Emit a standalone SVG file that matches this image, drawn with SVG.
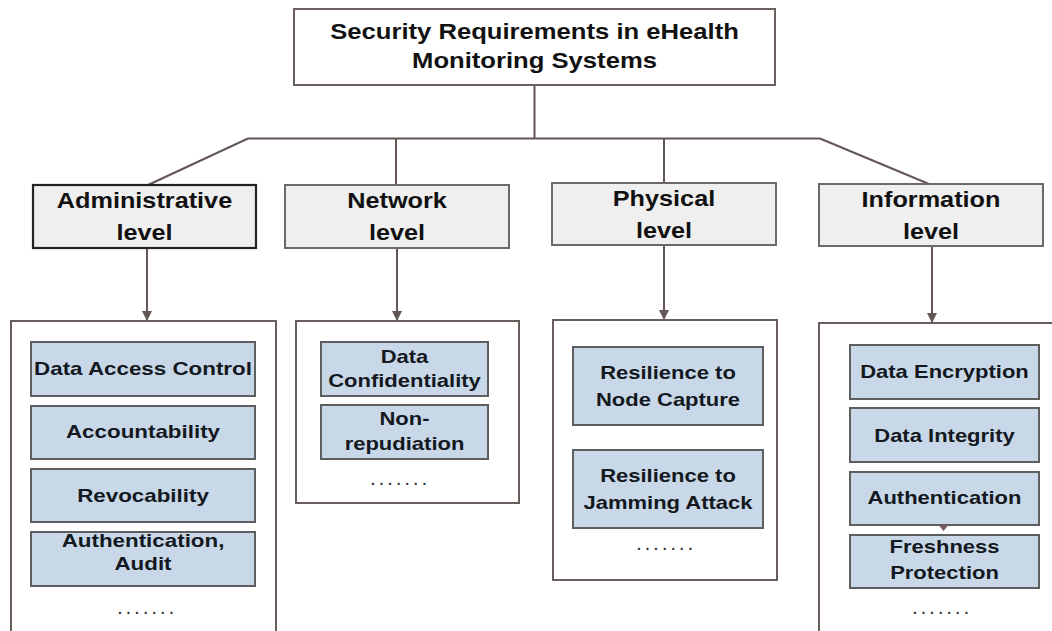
<svg xmlns="http://www.w3.org/2000/svg" width="1052" height="631" viewBox="0 0 1052 631">
<style>
  text { font-family: "Liberation Sans", Arial, sans-serif; font-weight: bold; fill: #111; text-anchor: middle; }
  .title { font-size: 22px; }
  .lvl { font-size: 21.5px; }
  .item { font-size: 18.8px; fill: #141820; }
  .dots { font-size: 14px; letter-spacing: 4.7px; fill: #333; }
  .titlebox { fill: #fff; stroke: #6b6260; stroke-width: 2; }
  .lvlbox { fill: #efefef; stroke: #6e6866; stroke-width: 2; }
  .lvlbox.dark { stroke: #232323; stroke-width: 2.2; }
  .cont { fill: #fff; stroke: #675d5b; stroke-width: 2; }
  .ibox { fill: #c8d8e8; stroke: #5e5e5e; stroke-width: 2; }
  .conn { fill: none; stroke: #625755; stroke-width: 2; }
</style>
<defs>
  <marker id="ah" viewBox="0 0 10 10" refX="9" refY="5" markerWidth="5" markerHeight="5" orient="auto" markerUnits="strokeWidth">
    <path d="M0,0 L10,5 L0,10 Z" fill="#625755"/>
  </marker>
</defs>
<rect width="1052" height="631" fill="#fff"/>

<g id="connectors">
  <path class="conn" d="M534.5 85 V138.5"/>
  <path class="conn" d="M248 138.5 H820"/>
  <path class="conn" d="M248 138.5 L148 185"/>
  <path class="conn" d="M396 138.5 V185"/>
  <path class="conn" d="M664 138.5 V183"/>
  <path class="conn" d="M820 138.5 L929 184"/>
  <path class="conn" d="M147 248 V320" marker-end="url(#ah)"/>
  <path class="conn" d="M397 248 V320" marker-end="url(#ah)"/>
  <path class="conn" d="M664 245 V319" marker-end="url(#ah)"/>
  <path class="conn" d="M932 246 V322" marker-end="url(#ah)"/>
</g>

<g id="title">
  <rect class="titlebox" x="294" y="9" width="481" height="76"/>
  <text class="title" transform="translate(534.5,39) scale(1.165,1)">Security Requirements in eHealth</text>
  <text class="title" transform="translate(534.5,68) scale(1.165,1)">Monitoring Systems</text>
</g>

<g id="admin-level">
  <rect class="lvlbox dark" x="33" y="185" width="223" height="63"/>
  <text class="lvl" transform="translate(144.5,208) scale(1.175,1)">Administrative</text>
  <text class="lvl" transform="translate(144.5,240) scale(1.175,1)">level</text>
</g>
<g id="network-level">
  <rect class="lvlbox" x="285" y="185" width="224" height="63"/>
  <text class="lvl" transform="translate(397,208) scale(1.175,1)">Network</text>
  <text class="lvl" transform="translate(397,240) scale(1.175,1)">level</text>
</g>
<g id="physical-level">
  <rect class="lvlbox" x="552" y="183" width="224" height="62"/>
  <text class="lvl" transform="translate(664,206) scale(1.175,1)">Physical</text>
  <text class="lvl" transform="translate(664,238) scale(1.175,1)">level</text>
</g>
<g id="information-level">
  <rect class="lvlbox" x="819" y="184" width="224" height="62"/>
  <text class="lvl" transform="translate(931,207) scale(1.175,1)">Information</text>
  <text class="lvl" transform="translate(931,239) scale(1.175,1)">level</text>
</g>

<g id="admin-requirements">
  <rect class="cont" x="11" y="321" width="265" height="330"/>
  <rect class="ibox" x="31" y="342" width="224" height="54"/>
  <text class="item" transform="translate(143,375) scale(1.19,1)">Data Access Control</text>
  <rect class="ibox" x="31" y="406" width="224" height="53"/>
  <text class="item" transform="translate(143,438) scale(1.19,1)">Accountability</text>
  <rect class="ibox" x="31" y="469" width="224" height="53"/>
  <text class="item" transform="translate(143,502) scale(1.19,1)">Revocability</text>
  <rect class="ibox" x="31" y="532" width="224" height="54"/>
  <text class="item" transform="translate(143,547) scale(1.19,1)">Authentication,</text>
  <text class="item" transform="translate(143,570) scale(1.19,1)">Audit</text>
  <text class="dots" x="148" y="614">.......</text>
</g>

<g id="network-requirements">
  <rect class="cont" x="296" y="321" width="223" height="182"/>
  <rect class="ibox" x="321" y="342" width="167" height="54"/>
  <text class="item" transform="translate(404.5,363) scale(1.17,1)">Data</text>
  <text class="item" transform="translate(404.5,387) scale(1.17,1)">Confidentiality</text>
  <rect class="ibox" x="321" y="405" width="167" height="54"/>
  <text class="item" transform="translate(404.5,425) scale(1.17,1)">Non-</text>
  <text class="item" transform="translate(404.5,450) scale(1.17,1)">repudiation</text>
  <text class="dots" x="401" y="485">.......</text>
</g>

<g id="physical-requirements">
  <rect class="cont" x="553" y="320" width="224" height="260"/>
  <rect class="ibox" x="573" y="347" width="190" height="78"/>
  <text class="item" transform="translate(668,379) scale(1.17,1)">Resilience to</text>
  <text class="item" transform="translate(668,406) scale(1.17,1)">Node Capture</text>
  <rect class="ibox" x="573" y="450" width="190" height="78"/>
  <text class="item" transform="translate(668,482) scale(1.17,1)">Resilience to</text>
  <text class="item" transform="translate(668,509) scale(1.17,1)">Jamming Attack</text>
  <text class="dots" x="667" y="550">.......</text>
</g>

<g id="information-requirements">
  <rect class="cont" x="819" y="323" width="250" height="330"/>
  <rect class="ibox" x="850" y="345" width="189" height="54"/>
  <text class="item" transform="translate(944.5,378) scale(1.17,1)">Data Encryption</text>
  <rect class="ibox" x="850" y="408" width="189" height="54"/>
  <text class="item" transform="translate(944.5,442) scale(1.17,1)">Data Integrity</text>
  <rect class="ibox" x="850" y="472" width="189" height="53"/>
  <text class="item" transform="translate(944.5,504) scale(1.17,1)">Authentication</text>
  <path d="M938.5 525 L948.5 525 L943.5 531 Z" fill="#7a5b5b"/>
  <rect class="ibox" x="850" y="535" width="189" height="53"/>
  <text class="item" transform="translate(944.5,553) scale(1.17,1)">Freshness</text>
  <text class="item" transform="translate(944.5,579) scale(1.17,1)">Protection</text>
  <text class="dots" x="943" y="614">.......</text>
</g>
</svg>
